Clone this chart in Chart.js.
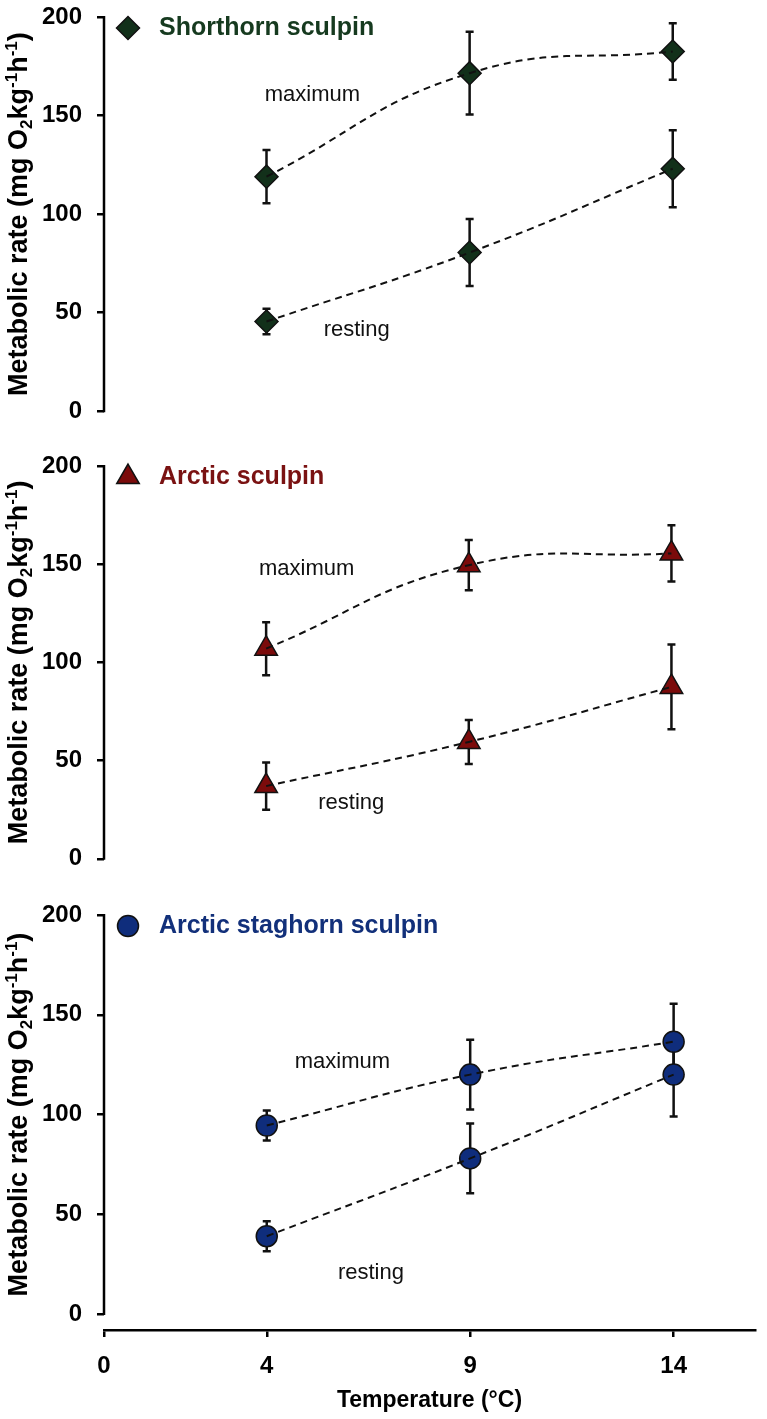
<!DOCTYPE html>
<html>
<head>
<meta charset="utf-8">
<script src="https://cdn.jsdelivr.net/npm/chart.js@4.4.1/dist/chart.umd.min.js"></script>
<style>
  body { margin: 0; background: #fff; width: 767px; height: 1419px; position: relative; overflow: hidden; }
  canvas { position: absolute; left: 0; }
</style>
</head>
<body>
<canvas id="c1" width="767" height="440" style="top:0px"></canvas>
<canvas id="c2" width="767" height="440" style="top:449px"></canvas>
<canvas id="c3" width="767" height="521" style="top:898px"></canvas>
<script>
// データ
const temps = [4, 9, 14];
const xTicks = [0, 4, 9, 14];
const yTicks = [0, 50, 100, 150, 200];

const shorthornMax = [119, 171.5, 182.5];
const shorthornMaxErr = [13.5, 21, 14.3];
const shorthornRest = [45.5, 80.5, 123];
const shorthornRestErr = [6.5, 17, 19.5];

const arcticMax = [107, 149.5, 155.5];
const arcticMaxErr = [13.5, 12.8, 14.3];
const arcticRest = [37, 59.5, 87.5];
const arcticRestErr = [12, 11.2, 21.6];

const staghornMax = [94.5, 120, 136.5];
const staghornMaxErr = [7.5, 17.5, 19];
const staghornRest = [39, 78, 120];
const staghornRestErr = [7.5, 17.5, 21];

const fontFamily = '"Liberation Sans", Arial, sans-serif';
Chart.defaults.font.family = fontFamily;
Chart.defaults.color = '#000';

function pts(vals) {
    return temps.map((t, i) => ({ x: t, y: vals[i] }));
}

// 破線カーブ (前面)
function curve(vals) {
    return {
        data: pts(vals), showLine: true, borderColor: '#111', borderWidth: 2,
        borderDash: [7, 5], tension: 0.45, pointRadius: 0, order: 0, clip: false
    };
}

// マーカー + エラーバー
function markers(vals, errs, p) {
    return {
        data: pts(vals), errors: errs, showLine: false,
        pointStyle: p.style, pointRadius: p.radius, pointHoverRadius: p.radius,
        backgroundColor: p.fill, borderColor: '#111', borderWidth: 1.5,
        pointBackgroundColor: p.fill, pointBorderColor: '#111', pointBorderWidth: 1.5,
        order: 1, clip: false
    };
}

const errorBars = {
    id: 'errorBars',
    beforeDatasetsDraw(chart) {
        const { ctx, scales: { x, y } } = chart;
        ctx.save();
        ctx.strokeStyle = '#111';
        ctx.lineWidth = 2.5;
        chart.data.datasets.forEach(ds => {
            if (!ds.errors) return;
            ds.data.forEach((p, i) => {
                const px = x.getPixelForValue(p.x);
                const top = y.getPixelForValue(p.y + ds.errors[i]);
                const bot = y.getPixelForValue(p.y - ds.errors[i]);
                ctx.beginPath();
                ctx.moveTo(px, top); ctx.lineTo(px, bot);
                ctx.moveTo(px - 4, top); ctx.lineTo(px + 4, top);
                ctx.moveTo(px - 4, bot); ctx.lineTo(px + 4, bot);
                ctx.stroke();
            });
        });
        ctx.restore();
    }
};

// y軸の線 (0〜200のみ)
const yAxisLine = {
    id: 'yAxisLine',
    beforeDatasetsDraw(chart) {
        const { ctx, chartArea, scales: { y } } = chart;
        ctx.save();
        ctx.strokeStyle = '#000';
        ctx.lineWidth = 2.5;
        ctx.beginPath();
        ctx.moveTo(chartArea.left, y.getPixelForValue(yTicks[yTicks.length - 1]) - 1);
        ctx.lineTo(chartArea.left, y.getPixelForValue(yTicks[0]) + 1);
        ctx.stroke();
        ctx.restore();
    }
};

// 凡例・注記・y軸タイトル
const panelText = {
    id: 'panelText',
    afterDatasetsDraw(chart, args, o) {
        const { ctx, chartArea, scales: { x, y } } = chart;
        ctx.save();
        // 凡例
        ctx.fillStyle = o.fill;
        ctx.strokeStyle = '#111';
        Chart.helpers.drawPoint(ctx, { pointStyle: o.style, radius: o.radius, borderWidth: 1.5, rotation: 0 },
            chartArea.left + 24, chartArea.top + 11);
        ctx.fillStyle = o.color;
        ctx.font = 'bold 25px ' + fontFamily;
        ctx.textBaseline = 'middle';
        ctx.textAlign = 'left';
        ctx.fillText(o.name, chartArea.left + 55, chartArea.top + 11);

        // maximum / resting
        ctx.fillStyle = '#111';
        ctx.font = '22px ' + fontFamily;
        ctx.textAlign = 'center';
        o.notes.forEach(n => {
            ctx.fillText(n.text, x.getPixelForValue(n.x), y.getPixelForValue(n.y));
        });

        // y軸タイトル (下付き・上付き)
        const parts = [
            ['Metabolic rate (mg O', 0], ['2', 1], ['kg', 0], ['-1', -1], ['h', 0], ['-1', -1], [')', 0]
        ];
        const big = 'bold 27px ' + fontFamily, small = 'bold 17px ' + fontFamily;
        let total = 0;
        parts.forEach(p => { ctx.font = p[1] ? small : big; total += ctx.measureText(p[0]).width; });
        const cy = (y.getPixelForValue(yTicks[0]) + y.getPixelForValue(yTicks[yTicks.length - 1])) / 2;
        ctx.translate(20, cy);
        ctx.rotate(-Math.PI / 2);
        ctx.fillStyle = '#000';
        ctx.textAlign = 'left';
        let pos = -total / 2;
        parts.forEach(p => {
            ctx.font = p[1] ? small : big;
            ctx.fillText(p[0], pos, p[1] === 1 ? 7 : (p[1] === -1 ? -8 : 0));
            pos += ctx.measureText(p[0]).width;
        });
        ctx.restore();
    }
};

function makePanel(id, p) {
    return new Chart(document.getElementById(id), {
        type: 'scatter',
        data: {
            datasets: [
                curve(p.max), curve(p.rest),
                markers(p.max, p.maxErr, p), markers(p.rest, p.restErr, p)
            ]
        },
        options: {
            responsive: false,
            animation: false,
            events: [],
            layout: { padding: { top: 17, right: 2, left: 0, bottom: p.showX ? 0 : 8 } },
            plugins: {
                legend: { display: false },
                tooltip: { enabled: false },
                panelText: { name: p.name, color: p.color, fill: p.fill, style: p.style, radius: p.radius, notes: p.notes }
            },
            scales: {
                x: {
                    display: p.showX,
                    min: 0, max: 16,
                    afterBuildTicks: s => { s.ticks = xTicks.map(v => ({ value: v })); },
                    afterFit: s => { s.height = p.showX ? 89 : 0; },
                    border: { display: true, color: '#000', width: 2.5 },
                    grid: { drawOnChartArea: false, drawTicks: true, tickLength: 7, color: '#000', lineWidth: 2.5 },
                    ticks: { font: { size: 24, weight: 'bold' }, color: '#000', padding: 15, maxRotation: 0 },
                    title: { display: true, text: 'Temperature (°C)', font: { size: 23, weight: 'bold' }, color: '#000', padding: { top: 2, bottom: 5 } }
                },
                y: {
                    min: -8, max: 200,
                    afterBuildTicks: s => { s.ticks = yTicks.map(v => ({ value: v })); },
                    afterFit: s => { s.width = 104; s.paddingTop = 0; s.paddingBottom = 0; },
                    border: { display: false },
                    grid: { drawOnChartArea: false, drawTicks: true, tickLength: 7, color: '#000', lineWidth: 2.5 },
                    ticks: { font: { size: 24, weight: 'bold' }, color: '#000', padding: 15 }
                }
            }
        },
        plugins: [errorBars, yAxisLine, panelText]
    });
}

makePanel('c1', {
    max: shorthornMax, maxErr: shorthornMaxErr, rest: shorthornRest, restErr: shorthornRestErr,
    name: 'Shorthorn sculpin', color: '#163a1f', fill: '#12301a', style: 'rectRot', radius: 11.5,
    notes: [{ text: 'maximum', x: 5.13, y: 160.7 }, { text: 'resting', x: 6.22, y: 41.3 }],
    showX: false
});

makePanel('c2', {
    max: arcticMax, maxErr: arcticMaxErr, rest: arcticRest, restErr: arcticRestErr,
    name: 'Arctic sculpin', color: '#7a1212', fill: '#7b0b0b', style: 'triangle', radius: 13,
    notes: [{ text: 'maximum', x: 5.0, y: 147.6 }, { text: 'resting', x: 6.1, y: 28.2 }],
    showX: false
});

makePanel('c3', {
    max: staghornMax, maxErr: staghornMaxErr, rest: staghornRest, restErr: staghornRestErr,
    name: 'Arctic staghorn sculpin', color: '#12307a', fill: '#0f2d7c', style: 'circle', radius: 10.5,
    notes: [{ text: 'maximum', x: 5.86, y: 126.3 }, { text: 'resting', x: 6.56, y: 20.6 }],
    showX: true
});
</script>
</body>
</html>
